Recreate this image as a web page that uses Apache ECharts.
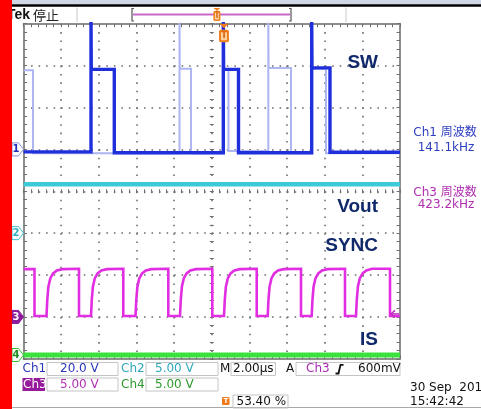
<!DOCTYPE html>
<html><head><meta charset="utf-8">
<script src="https://cdn.jsdelivr.net/npm/echarts@6/dist/echarts.min.js"></script>
<style>html,body{margin:0;padding:0;background:#fff;overflow:hidden}#c{width:481px;height:409px}</style>
</head><body><div id="c"></div>
<script>
// ---------- scope settings ----------
const timePerDiv = 2;            // µs / div
const timeDivs = 10, voltDivs = 8;
const channelNames = ['Ch1', 'Ch2', 'Ch3', 'Ch4'];
const voltsPerDiv = [20, 5, 5, 5];
const groundDiv = [5.0, 3.0, 1.0, 0.09];
const triggerTime = 10.65;       // µs
const triggerPercent = 53.40;
const triggerLevel = 0.6;        // V on Ch3

// ---------- Ch1 (SW) latest acquisition, µs / V ----------
const ch1Time = [0, 3.586, 3.586, 3.600, 4.823, 4.823, 10.614, 10.614, 10.630, 11.421, 11.421, 15.309, 15.309, 15.325, 16.281, 16.281, 20];
const ch1Volt = [-1.2, -1.2, 64, 38.2, 38.2, -1.6, -1.6, 64, 38.2, 38.2, -1.6, -1.6, 64, 38.9, 38.9, -1.4, -1.4];
// ---------- Ch1 earlier acquisition (persistence) ----------
const ch1GhostTime = [0, 0.505, 0.505, 8.287, 8.287, 8.300, 8.898, 8.898, 10.614, 10.614, 10.630, 10.890, 10.890, 13.004, 13.004, 13.020, 14.210, 14.210, 15.309, 15.309, 16.069, 16.069, 20];
const ch1GhostVolt = [37.8, 37.8, -1.8, -1.8, 64, 38.5, 38.5, -1.8, -1.8, 64, 38, 38, -0.8, -0.8, 64, 38.8, 38.8, -1.8, -1.8, 38.5, 38.5, -1.8, -1.8];
// ---------- Ch2 (Vout) ----------
const ch2Time = [0, 20];
const ch2Volt = [5.85, 5.85];
// ---------- Ch3 (SYNC) ----------
const ch3Time = [
  0, 0.584, 0.584, 1.222, 1.262, 1.322, 1.422, 1.572, 1.772, 2.072,
  2.948, 2.948, 3.586, 3.626, 3.686, 3.786, 3.936, 4.136, 4.436,
  5.301, 5.301, 5.950, 5.990, 6.050, 6.150, 6.300, 6.500, 6.800,
  7.692, 7.692, 8.313, 8.353, 8.413, 8.513, 8.663, 8.863, 9.163,
  10.029, 10.029, 10.651, 10.691, 10.751, 10.851, 11.001, 11.201, 11.501,
  12.388, 12.388, 12.972, 13.012, 13.072, 13.172, 13.322, 13.522, 13.822,
  14.741, 14.741, 15.309, 15.349, 15.409, 15.509, 15.659, 15.859, 16.159,
  17.078, 17.078, 17.663, 17.703, 17.763, 17.863, 18.013, 18.213, 18.513,
  19.469, 19.469, 20];
const ch3Volt = [
  5.7, 5.7, 0.1, 0.1, 2.0, 3.6, 4.6, 5.2, 5.55, 5.7,
  5.75, 0.1, 0.1, 2.0, 3.6, 4.6, 5.2, 5.55, 5.7,
  5.75, 0.1, 0.1, 2.0, 3.6, 4.6, 5.2, 5.55, 5.7,
  5.75, 0.1, 0.1, 2.0, 3.6, 4.6, 5.2, 5.55, 5.7,
  5.75, 0.1, 0.1, 2.0, 3.6, 4.6, 5.2, 5.55, 5.7,
  5.75, 0.1, 0.1, 2.0, 3.6, 4.6, 5.2, 5.55, 5.7,
  5.75, 0.1, 0.1, 2.0, 3.6, 4.6, 5.2, 5.55, 5.7,
  5.75, 0.1, 0.1, 2.0, 3.6, 4.6, 5.2, 5.55, 5.75,
  5.75, 0.1, 0.1];
// ---------- Ch4 (IS) ----------
const ch4Time = [0, 20];
const ch4Volt = [0, 0];

// ---------- readouts ----------
const ch1Freq = '141.1kHz', ch3Freq = '423.2kHz';
const freqLabel = '周波数';
const traceLabels = ['SW', 'Vout', 'SYNC', 'IS'];
const scaleTexts = ['20.0 V', '5.00 V', '5.00 V', '5.00 V'];
const timebaseText = '2.00µs';
const trigLevelText = '600mV';
const dateText = '30 Sep  2014', timeText = '15:42:42';

function toDiv(ch, times, volts) {
  return times.map((t, i) => [t, groundDiv[ch] + volts[i] / voltsPerDiv[ch]]);
}

const G = {left: 23.5, top: 23.7, width: 376.5, height: 335.1};
const frameColor = '#8e8e8e', tickColor = '#707070', dotColor = '#6c6c6c';
const vDot = G.height / voltDivs / 5, hDot = G.width / timeDivs / 5;

function axisBase(extra) {
  return Object.assign({
    type: 'value', silent: true,
    axisLine: {show: true, onZero: false, lineStyle: {color: frameColor, width: 2}},
    axisTick: {show: true, inside: true, length: 3.5, lineStyle: {color: tickColor, width: 1}},
    minorTick: {show: true, splitNumber: 5, length: 3.5, lineStyle: {color: tickColor, width: 1}},
    axisLabel: {show: false}, splitLine: {show: false}
  }, extra);
}
const xr = {min: 0, max: timePerDiv * timeDivs, interval: timePerDiv};
const yr = {min: 0, max: voltDivs, interval: 1};
const centerTick = {show: true, inside: true, length: 4, lineStyle: {color: tickColor, width: 1}};
const centerMinor = {show: true, splitNumber: 5, length: 4, lineStyle: {color: tickColor, width: 1}};

const chart = echarts.init(document.getElementById('c'), null, {renderer: 'canvas', width: 481, height: 409});

function lineSeries(data, color, width, z) {
  return {type: 'line', data, xAxisIndex: 0, yAxisIndex: 0, showSymbol: false, symbol: 'none',
    silent: true, animation: false, z, clip: true, lineStyle: {color, width, join: 'miter'}};
}

chart.setOption({
  animation: false,
  backgroundColor: '#ffffff',
  grid: Object.assign({outerBoundsMode: 'none', containLabel: false}, G),
  xAxis: [
    axisBase(Object.assign({position: 'bottom', splitLine: {show: true, lineStyle: {color: dotColor, width: 1.6, type: [1.6, vDot - 1.6]}}}, xr)),
    axisBase(Object.assign({position: 'top'}, xr)),
    axisBase(Object.assign({position: 'bottom', offset: -(G.height / 2 - 2), axisLine: {show: false, onZero: false}, axisTick: centerTick, minorTick: centerMinor}, xr))
  ],
  yAxis: [
    axisBase(Object.assign({position: 'left', splitLine: {show: true, lineStyle: {color: dotColor, width: 1.6, type: [1.6, hDot - 1.6]}}}, yr)),
    axisBase(Object.assign({position: 'right'}, yr)),
    axisBase(Object.assign({position: 'left', offset: -(G.width / 2 - 2), axisLine: {show: false, onZero: false}, axisTick: centerTick, minorTick: centerMinor}, yr))
  ],
  series: [
    lineSeries(toDiv(1, ch2Time, ch2Volt), '#3ccad8', 4.5, 2),
    lineSeries(toDiv(3, ch4Time, ch4Volt), '#3ce23c', 5, 2),
    lineSeries(toDiv(0, ch1GhostTime, ch1GhostVolt), '#adb5f2', 2, 3),
    lineSeries(toDiv(0, ch1Time, ch1Volt), '#1f2fdc', 3.4, 4),
    lineSeries(toDiv(2, ch3Time, ch3Volt), '#e22ee2', 2.6, 5)
  ]
});

const px = (t, d) => chart.convertToPixel({gridIndex: 0}, [t, d]);
const els = [];
const FONT = '"DejaVu Sans", "Noto Sans CJK JP", sans-serif';
function txt(x, y, s, font, fill, align, z) {
  els.push({type: 'text', z: z || 50, silent: true, style: {x, y, text: s, font, fill, textAlign: align || 'left', textVerticalAlign: 'middle'}});
}
function rect(x, y, w, h, fill, stroke, z, r) {
  els.push({type: 'rect', z: z || 40, silent: true, shape: {x, y, width: w, height: h, r: r || 0}, style: {fill: fill || 'none', stroke: stroke || 'none', lineWidth: 1}});
}
function line(x1, y1, x2, y2, color, w, z) {
  els.push({type: 'line', z: z || 40, silent: true, shape: {x1, y1, x2, y2}, style: {stroke: color, lineWidth: w}});
}
function poly(points, fill, stroke, z, lw) {
  els.push({type: 'polygon', z: z || 60, silent: true, shape: {points}, style: {fill: fill || 'none', stroke: stroke || 'none', lineWidth: lw || 1}});
}
function polyline(points, color, w, z) {
  els.push({type: 'polyline', z: z || 60, silent: true, shape: {points}, style: {stroke: color, lineWidth: w, fill: 'none'}});
}

// top band & header
rect(0, 0, 481, 4.3, '#cfd6e6', null, 10);
rect(0, 4.3, 481, 2.4, '#000000', null, 10);
txt(30, 15.5, 'Tek', 'bold 14px "Liberation Sans", sans-serif', '#111', 'right');
txt(33, 15.5, '停止', '13px "Noto Sans CJK JP", sans-serif', '#222', 'left');
line(77, 7.5, 77, 22, '#c8c8c8', 1);
line(346, 7.5, 346, 22, '#c8c8c8', 1);
// record bracket
const recL = 132, recR = 291;
polyline([[recL + 2, 8.5], [recL, 8.5], [recL, 21], [recL + 2, 21]], '#555', 1.2, 45);
polyline([[recR - 2, 8.5], [recR, 8.5], [recR, 21], [recR - 2, 21]], '#555', 1.2, 45);
line(recL + 1, 14.5, recR - 1, 14.5, '#c86ac8', 2, 42);
const hx = recL + (recR - recL) * triggerPercent / 100;
poly([[hx - 3.5, 8], [hx + 3.5, 8], [hx, 11]], '#f0801e', null, 60);
rect(hx - 3.5, 11, 7, 10, '#f0801e', null, 60, 1.5);
rect(hx - 2, 12.5, 4, 7, '#fbd2a8', null, 61);
txt(hx, 16, 'T', 'bold 8px "DejaVu Sans"', '#e07010', 'center', 62);

// trigger position marker on graticule
const tp = px(triggerTime, voltDivs);
poly([[tp[0] - 4.5, tp[1]], [tp[0] + 4.5, tp[1]], [tp[0], tp[1] + 4.5]], '#f07a1a', null, 70);
rect(tp[0] - 5, tp[1] + 6, 10, 12.5, '#f0801e', null, 70, 2);
rect(tp[0] - 3, tp[1] + 8, 6, 8.5, '#fcd0a0', null, 71);
txt(tp[0], tp[1] + 12.3, 'T', 'bold 9px "DejaVu Sans"', '#e06a10', 'center', 72);

// trigger level arrow (Ch3)
const tl = px(timePerDiv * timeDivs, groundDiv[2] + triggerLevel / voltsPerDiv[2]);
line(tl[0] - 9, tl[1] + 2, tl[0] - 1, tl[1] + 2, '#c030c0', 1.5, 70);
polyline([[tl[0] - 5, tl[1] - 1.5], [tl[0] - 9, tl[1] + 2], [tl[0] - 5, tl[1] + 5.5]], '#c030c0', 1.5, 70);

// channel ground markers
const markerStyle = [
  {stroke: '#8890d8', fill: '#ffffff', text: '#2030b8'},
  {stroke: '#40c0d0', fill: '#ffffff', text: '#30b0c0'},
  {stroke: '#8c1c9c', fill: '#8c1c9c', text: '#ffffff'},
  {stroke: '#30c030', fill: '#ffffff', text: '#209020'}
];
for (let i = 0; i < 4; i++) {
  const y = px(0, groundDiv[i])[1];
  const m = markerStyle[i];
  poly([[12, y - 6.5], [18.5, y - 6.5], [23.5, y], [18.5, y + 6.5], [12, y + 6.5]], m.fill, m.stroke, 80, 1);
  txt(16, y + 0.5, String(i + 1), 'bold 10px "DejaVu Sans"', m.text, 'center', 81);
}

// trace labels
const labelFont = 'bold 19px "Liberation Sans", Arial, sans-serif';
const labelColor = '#10296a';
txt(378, 63, traceLabels[0], labelFont, labelColor, 'right', 90);
txt(378, 207, traceLabels[1], labelFont, labelColor, 'right', 90);
txt(378, 245.5, traceLabels[2], labelFont, labelColor, 'right', 90);
txt(378, 340, traceLabels[3], labelFont, labelColor, 'right', 90);

// measurements
const mFont = '12px ' + FONT;
txt(445, 133, channelNames[0] + ' ' + freqLabel, mFont, '#2e3ec0', 'center');
txt(446, 148, ch1Freq, mFont, '#2e3ec0', 'center');
txt(445, 192.5, channelNames[2] + ' ' + freqLabel, mFont, '#b02eb0', 'center');
txt(446, 205, ch3Freq, mFont, '#b02eb0', 'center');

// bottom readout panel
const pf = '12px ' + FONT;
const boxC = '#c4c4c4';
const r1 = 369, r2 = 384.5, r3 = 401.5;
txt(22.5, r1, channelNames[0], pf, '#2a36b8');
rect(47, 362.5, 71, 13, null, boxC);
txt(60, r1, scaleTexts[0], pf, '#2a36b8');
txt(121, r1, channelNames[1], pf, '#2fa8bc');
rect(146, 362.5, 72, 13, null, boxC);
txt(155, r1, scaleTexts[1], pf, '#2fa8bc');
txt(220, r1, 'M', pf, '#111');
rect(231, 362.5, 44.5, 13, null, boxC);
txt(233, r1, timebaseText, pf, '#111');
txt(286, r1, 'A', pf, '#111');
rect(296, 362.5, 104, 13, null, boxC);
txt(306, r1, channelNames[2], pf, '#a82ab0');
polyline([[335.5, 373.5], [338.5, 373.5], [340.5, 364.8], [343.5, 364.8]], '#111', 1.8, 60);
txt(358, r1, trigLevelText, pf, '#111');

rect(22.5, 378, 22.5, 13, '#961a9c', null, 40);
txt(23, r2, channelNames[2], pf, '#ffffff', 'left', 52);
rect(47, 378, 71, 13, null, boxC);
txt(60, r2, scaleTexts[2], pf, '#b030b4');
txt(121, r2, channelNames[3], pf, '#2c9a2c');
rect(146, 378, 72, 13, null, boxC);
txt(155, r2, scaleTexts[3], pf, '#2c9a2c');

rect(222, 397, 7.5, 8, '#f07a1a', null, 50, 1);
txt(225.8, 401.2, 'T', 'bold 7px "DejaVu Sans"', '#ffffff', 'center', 52);
rect(233, 395, 55, 13, null, boxC);
txt(236.5, r3, triggerPercent.toFixed(2) + ' %', pf, '#111');

txt(410, 388, dateText, pf, '#111');
txt(410, r3, timeText, pf, '#111');
line(12, 407.5, 481, 407.5, '#a8a8a8', 1, 30);

// red side bar
rect(0, 0, 12, 409, '#ff0000', null, 200);

chart.setOption({graphic: {elements: els}});
</script>
</body></html>
